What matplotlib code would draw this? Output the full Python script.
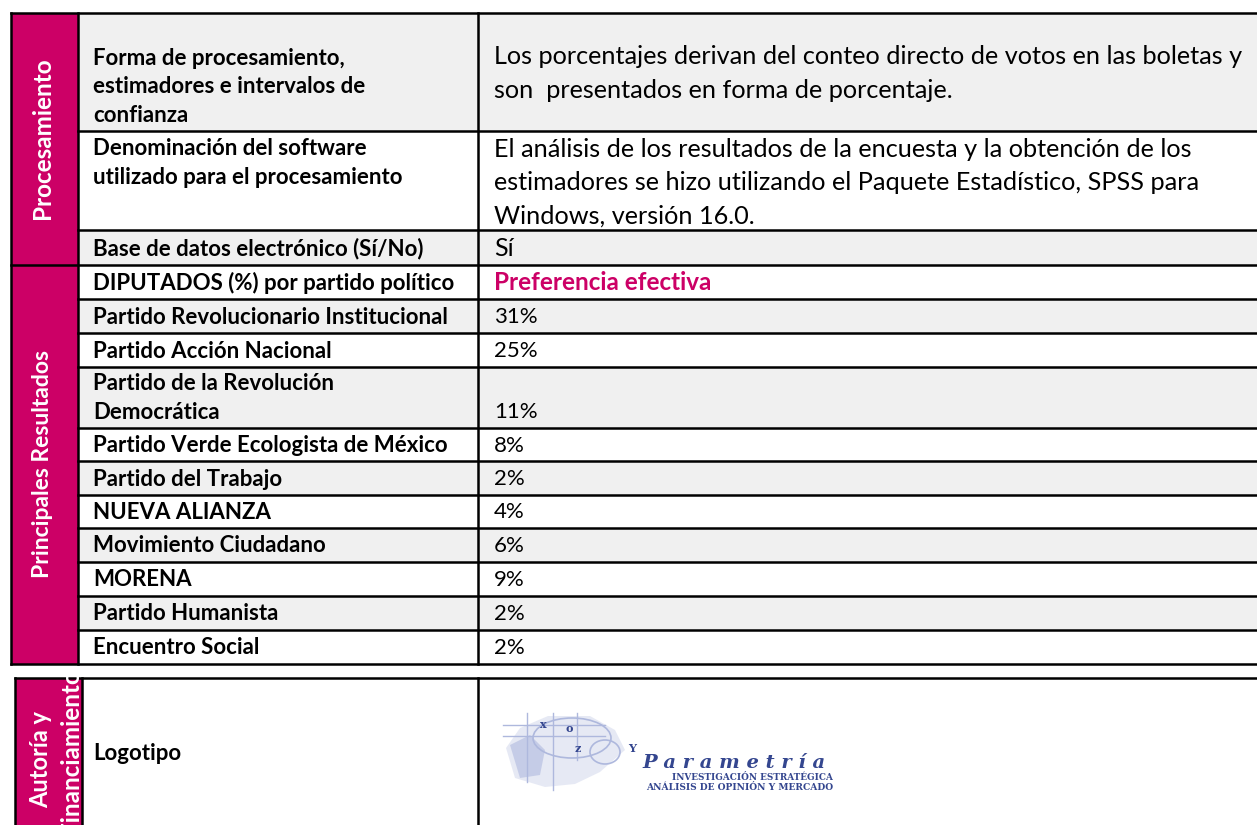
import matplotlib.pyplot as plt
from matplotlib.patches import Rectangle, Ellipse, Polygon

# --- datos de la tabla ---
secciones = ["Procesamiento", "Principales Resultados"]
proc_labels = ["Forma de procesamiento,\nestimadores e intervalos de\nconfianza",
               "Denominación del software\nutilizado para el procesamiento",
               "Base de datos electrónico (Sí/No)"]
proc_values = ["Los porcentajes derivan del conteo directo de votos en las boletas y\nson  presentados en forma de porcentaje.",
               "El análisis de los resultados de la encuesta y la obtención de los\nestimadores se hizo utilizando el Paquete Estadístico, SPSS para\nWindows, versión 16.0.",
               "Sí"]
encabezado = ["DIPUTADOS (%) por partido político", "Preferencia efectiva"]
partidos = ["Partido Revolucionario Institucional", "Partido Acción Nacional",
            "Partido de la Revolución\nDemocrática", "Partido Verde Ecologista de México",
            "Partido del Trabajo", "NUEVA ALIANZA", "Movimiento Ciudadano", "MORENA",
            "Partido Humanista", "Encuentro Social"]
porcentajes = [31, 25, 11, 8, 2, 4, 6, 9, 2, 2]

PINK = '#CC0066'
GRAY = '#F0F0F0'
FONT = 'Lato'

# bordes de filas (px)
row_edges = [13, 131, 230, 265, 299, 333, 367, 428, 461, 495, 528, 562, 596, 630, 664]
x_left, x_pink, x_div, x_right = 11, 78, 478, 1257

fig = plt.figure(figsize=(12.57, 8.25), dpi=100)
ax = fig.add_axes([0, 0, 1, 1])
ax.set_xlim(0, 1257)
ax.set_ylim(825, 0)
ax.axis('off')

labels = proc_labels + [encabezado[0]] + partidos
values = proc_values + [encabezado[1]] + [f'{p}%' for p in porcentajes]

# fondos de filas
for i in range(len(labels)):
    y0, y1 = row_edges[i], row_edges[i + 1]
    color = GRAY if i % 2 == 0 else 'white'
    ax.add_patch(Rectangle((x_pink, y0), x_right - x_pink, y1 - y0, facecolor=color, edgecolor='none'))

# columna rosa
ax.add_patch(Rectangle((x_left, 13), x_pink - x_left, 664 - 13, facecolor=PINK, edgecolor='none'))
ax.text(43, 138, secciones[0], rotation=90, color='white', fontsize=17.5,
        fontweight='bold', family=FONT, ha='center', va='center')
ax.text(43, 464, secciones[1], rotation=90, color='white', fontsize=16.5,
        fontweight='bold', family=FONT, ha='center', va='center')

# textos
LFS = 16
for i, (lab, val) in enumerate(zip(labels, values)):
    y0, y1 = row_edges[i], row_edges[i + 1]
    nl = lab.count('\n') + 1
    if i == 1:
        ax.text(93, y0 + 7, lab, fontsize=LFS, fontweight='bold', family=FONT,
                ha='left', va='top', linespacing=1.45)
    elif nl > 1:
        ax.text(93, y1 - 5, lab, fontsize=LFS, fontweight='bold', family=FONT,
                ha='left', va='bottom', linespacing=1.45)
    else:
        ax.text(93, (y0 + y1) / 2 + 1, lab, fontsize=LFS, fontweight='bold', family=FONT,
                ha='left', va='center')
    if i in (0, 1):
        ax.text(494, (y0 + y1) / 2 + (1.5 if i == 0 else 2.5), val, fontsize=18.2,
                family=FONT, ha='left', va='center', linespacing=1.55)
    elif i == 2:
        ax.text(494, (y0 + y1) / 2 + 1, val, fontsize=18, family=FONT, ha='left', va='center')
    elif i == 3:
        ax.text(494, (y0 + y1) / 2 + 1, val, fontsize=17.5, family=FONT, color=PINK,
                fontweight='bold', ha='left', va='center')
    elif i == 6:
        ax.text(494, y1 - 6, val, fontsize=16, family=FONT, ha='left', va='bottom')
    else:
        ax.text(494, (y0 + y1) / 2 + 1, val, fontsize=16, family=FONT, ha='left', va='center')

# lineas de la tabla superior
lw = 1.8
for y in row_edges:
    xs = x_left if y in (13, 265, 664) else x_pink
    ax.plot([xs, x_right], [y, y], color='black', lw=lw, solid_capstyle='projecting')
for x in (x_left, x_pink, x_div):
    ax.plot([x, x], [13, 664], color='black', lw=lw, solid_capstyle='projecting')

# tabla inferior
yb = 678
ax.add_patch(Rectangle((15, yb), 82 - 15, 830 - yb, facecolor=PINK, edgecolor='none'))
t1 = ax.text(41, 760, "Autoría y", rotation=90, color='white', fontsize=17,
             fontweight='bold', family=FONT, ha='center', va='center', rotation_mode='anchor')
t2 = ax.text(71, 834, "Financiamiento", rotation=90, color='white', fontsize=17.5,
             fontweight='bold', family=FONT, ha='left', va='center', rotation_mode='anchor')
for t in (t1, t2):
    t.set_clip_path(Rectangle((15, yb + 1), 82 - 15, 830 - yb, transform=ax.transData))
ax.plot([15, x_right], [yb, yb], color='black', lw=lw, solid_capstyle='projecting')
for x in (15, 82, x_div):
    ax.plot([x, x], [yb, 830], color='black', lw=lw, solid_capstyle='projecting')
ax.text(93, 753, "Logotipo", fontsize=LFS, fontweight='bold', family=FONT, ha='left', va='center')

# logotipo (aproximado)
LB = '#AEB8DD'
DB = '#34468F'
ax.add_patch(Polygon([[506, 748], [520, 728], [548, 716], [590, 716], [615, 730], [625, 750],
                      [600, 772], [575, 784], [545, 787], [515, 778]], closed=True,
                     facecolor=LB, alpha=0.3, edgecolor='none'))
ax.add_patch(Polygon([[510, 745], [530, 735], [545, 750], [540, 775], [520, 778]], closed=True,
                     facecolor='#8A98CF', alpha=0.35, edgecolor='none'))
for y in (725, 736):
    ax.plot([503, 605], [y, y], color=LB, lw=1)
for x, ya, yb2 in ((527, 713, 782), (553, 713, 790), (577, 713, 760)):
    ax.plot([x, x], [ya, yb2], color=LB, lw=1)
ax.add_patch(Ellipse((572, 738), 78, 40, facecolor='none', edgecolor=LB, lw=1.2))
ax.add_patch(Ellipse((605, 752), 30, 24, facecolor='none', edgecolor=LB, lw=1.2))
for ch, x, y in (('x', 543, 724), ('o', 569, 729), ('z', 578, 748), ('Y', 632, 748)):
    ax.text(x, y, ch, fontsize=8, color=DB, family='DejaVu Serif', fontweight='bold',
            ha='center', va='center')
ax.text(642, 763, "P a r a m e t r í a", fontsize=14, color=DB, family='DejaVu Serif',
        style='italic', fontweight='bold', ha='left', va='center')
ax.text(833, 777, "INVESTIGACIÓN ESTRATÉGICA", fontsize=6.4, color=DB, family='DejaVu Serif',
        fontweight='bold', ha='right', va='center')
ax.text(833, 787, "ANÁLISIS DE OPINIÓN Y MERCADO", fontsize=6.6, color=DB, family='DejaVu Serif',
        fontweight='bold', ha='right', va='center')

fig.savefig('out.png', dpi=100)
